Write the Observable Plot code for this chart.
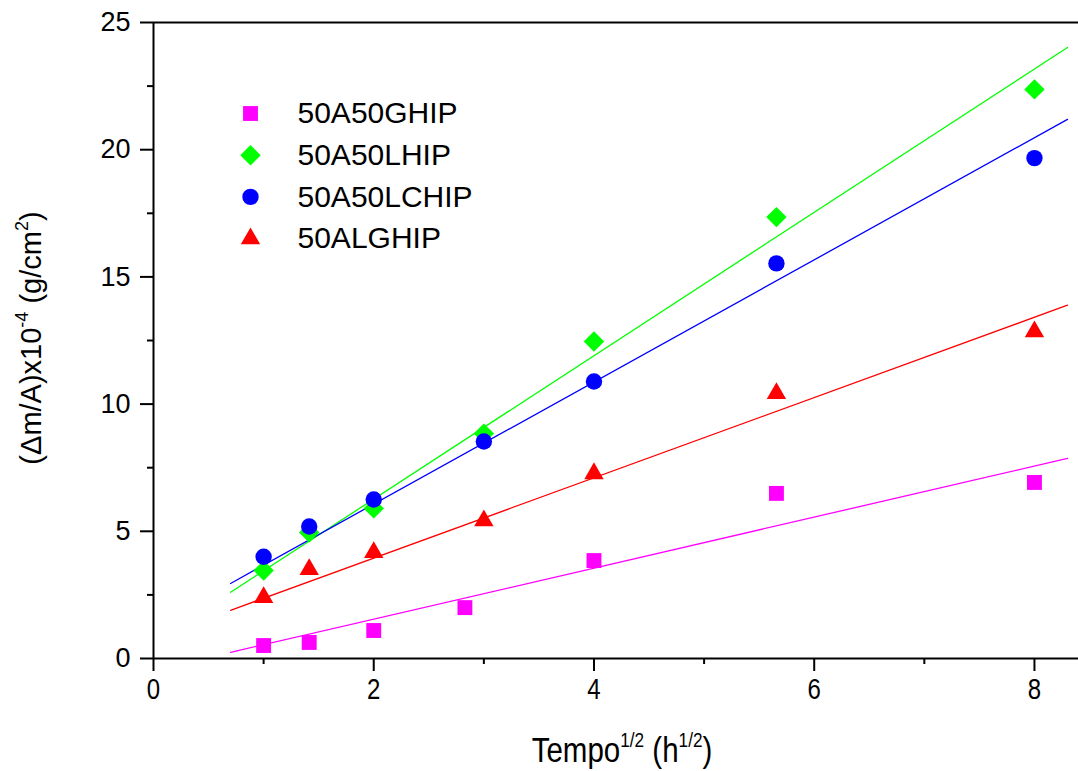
<!DOCTYPE html>
<html>
<head>
<meta charset="utf-8">
<script src="https://cdn.jsdelivr.net/npm/d3@7"></script>
<script src="https://cdn.jsdelivr.net/npm/@observablehq/plot@0.6"></script>
<style>
  html, body { margin: 0; padding: 0; background: white; }
  #chart { width: 1078px; height: 771px; }
</style>
</head>
<body>
<div id="chart"></div>
<script>
// ---- data ----
const seriesNames = ["50A50GHIP", "50A50LHIP", "50A50LCHIP", "50ALGHIP"];
const seriesColors = ["#ff00ff", "#00ff00", "#0000ff", "#ff0000"];
const seriesSymbols = ["square", "diamond2", "circle", "triangle"];
const seriesRadius = [8.4, 9.2, 8.2, 7.2];

const xGHIP = [1, 1.414, 2, 2.828, 4, 5.657, 8];
const yGHIP = [0.51, 0.63, 1.1, 2.0, 3.85, 6.49, 6.92];
const xOthers = [1, 1.414, 2, 3, 4, 5.657, 8];
const yLHIP = [3.46, 4.95, 5.9, 8.84, 12.46, 17.35, 22.37];
const yLCHIP = [4.0, 5.19, 6.25, 8.53, 10.89, 15.53, 19.67];
const yLGHIP = [2.4, 3.5, 4.17, 5.42, 7.27, 10.42, 12.85];

// linear fits drawn in the reference (slope, intercept), over x range
const fitSlope = [1.003, 2.818, 2.40, 1.578];
const fitIntercept = [-0.46, 0.63, 1.27, 0.79];
const fitRange = [0.7, 8.3];

const xMajorTicks = [0, 2, 4, 6, 8];
const xMinorTicks = [1, 3, 5, 7];
const yMajorTicks = [0, 5, 10, 15, 20, 25];
const yMinorTicks = [2.5, 7.5, 12.5, 17.5, 22.5];

// ---- build tables ----
const xs = [xGHIP, xOthers, xOthers, xOthers];
const ys = [yGHIP, yLHIP, yLCHIP, yLGHIP];
const points = seriesNames.flatMap((s, i) => xs[i].map((x, j) => ({series: s, i, x, y: ys[i][j]})));
const fits = seriesNames.flatMap((s, i) => fitRange.map(x => ({series: s, i, x, y: fitSlope[i] * x + fitIntercept[i]})));

const W = 1078, H = 771, mL = 153, mR = 0, mT = 22, mB = 113;

const marks = [];
seriesNames.forEach((s, i) => {
  marks.push(Plot.line(fits.filter(d => d.i === i), {x: "x", y: "y", stroke: seriesColors[i], strokeWidth: 1.3}));
});
seriesNames.forEach((s, i) => {
  marks.push(Plot.dot(points.filter(d => d.i === i), {x: "x", y: "y", symbol: () => seriesSymbols[i], r: seriesRadius[i], fill: seriesColors[i], stroke: "none"}));
});
marks.push(Plot.ruleY([0, 25], {stroke: "black", strokeWidth: 2}));
marks.push(Plot.ruleX([0], {stroke: "black", strokeWidth: 2}));
marks.push(Plot.axisY(yMajorTicks, {tickSize: 13, tickPadding: 10, fontSize: 27, strokeWidth: 2, fill: "black", label: null}));
marks.push(Plot.axisY(yMinorTicks, {tickSize: 6, text: null, strokeWidth: 2, label: null}));
marks.push(Plot.axisX(xMajorTicks, {tickSize: 13, tickPadding: 6, fontSize: 30, strokeWidth: 2, fill: "black", label: null}));
marks.push(Plot.axisX(xMinorTicks, {tickSize: 6, text: null, strokeWidth: 2, label: null}));
// legend
const legendTop = 113 - mT, legendStep = 41.7;
seriesNames.forEach((s, i) => {
  marks.push(Plot.dot([s], {frameAnchor: "top-left", dx: 250 - mL, dy: legendTop + i * legendStep, symbol: () => seriesSymbols[i], r: seriesRadius[i], fill: seriesColors[i]}));
  marks.push(Plot.text([s], {frameAnchor: "top-left", dx: 297 - mL, dy: legendTop + i * legendStep, text: d => d, textAnchor: "start", lineAnchor: "middle", fontSize: 30, fill: "black"}));
});

const chart = Plot.plot({
  width: W, height: H,
  marginLeft: mL, marginRight: mR, marginTop: mT, marginBottom: mB,
  style: {fontFamily: "Liberation Sans, Arial, sans-serif", background: "white", overflow: "visible"},
  x: {domain: [0, 8.4]},
  y: {domain: [0, 25]},
  marks
});
document.getElementById("chart").appendChild(chart);

const svg = d3.select(chart);
// condense the x tick labels (narrow face as in the reference)
const svgTop = chart.getBoundingClientRect().top;
svg.selectAll("text").filter(function() {
  return xMajorTicks.map(String).includes(this.textContent.trim()) &&
    this.getBoundingClientRect().top - svgTop > mT + (H - mT - mB);
}).each(function() {
  const bb = this.getBBox();
  const cx = bb.x + bb.width / 2;
  const tr = this.getAttribute("transform") || "";
  this.setAttribute("transform", `${tr} translate(${cx},0) scale(0.8,1) translate(${-cx},0)`);
});

// axis titles with superscripts
const xt = svg.append("text")
  .attr("transform", "translate(622,762) scale(0.82,1)")
  .attr("text-anchor", "middle")
  .attr("font-family", "Liberation Sans, Arial, sans-serif")
  .attr("font-size", 36).attr("fill", "black");
xt.append("tspan").text("Tempo");
xt.append("tspan").attr("font-size", 21).attr("dy", -15).text("1/2");
xt.append("tspan").attr("dy", 15).text(" (h");
xt.append("tspan").attr("font-size", 21).attr("dy", -15).text("1/2");
xt.append("tspan").attr("dy", 15).text(")");

const yt = svg.append("text")
  .attr("transform", "translate(41,338) rotate(-90)")
  .attr("text-anchor", "middle")
  .attr("font-family", "Liberation Sans, Arial, sans-serif")
  .attr("font-size", 29).attr("fill", "black");
yt.append("tspan").text("(\u0394m/A)x10");
yt.append("tspan").attr("font-size", 18).attr("dy", -13).text("-4");
yt.append("tspan").attr("dy", 13).text(" (g/cm");
yt.append("tspan").attr("font-size", 18).attr("dy", -13).text("2");
yt.append("tspan").attr("dy", 13).text(")");
</script>
</body>
</html>
